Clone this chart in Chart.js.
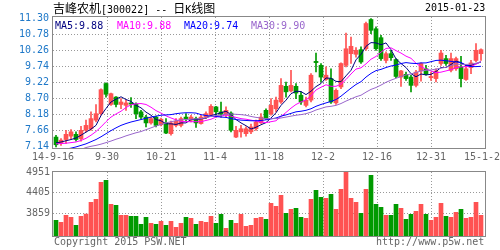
<!DOCTYPE html>
<html>
<head>
<meta charset="utf-8">
<script src="https://cdn.jsdelivr.net/npm/chart.js@4.4.1/dist/chart.umd.min.js"></script>
<style>
  body { margin: 0; background: #fff; }
  #wrap { position: relative; width: 500px; height: 250px; overflow: hidden; }
  #wrap canvas { position: absolute; left: 0; }
  .txt { position: absolute; font-family: "DejaVu Sans Mono", monospace; font-size: 10px; line-height: 12px; white-space: nowrap; }
  .cjk { font-family: "Noto Sans CJK SC", sans-serif; font-size: 12px; }
</style>
</head>
<body>
<div id="wrap">
  <canvas id="kChart" width="500" height="170" style="top:0"></canvas>
  <canvas id="volChart" width="500" height="90" style="top:160px"></canvas>

  <div class="txt" style="left:53px;top:2px;color:#000"><span class="cjk">吉峰农机</span>[300022] -- <span class="cjk">日</span>K<span class="cjk">线图</span></div>
  <div class="txt" style="left:425px;top:2px;color:#000">2015-01-23</div>

  <div class="txt" style="left:55px;top:20px;color:#000080">MA5:9.88</div>
  <div class="txt" style="left:117px;top:20px;color:#ff00ff">MA10:9.88</div>
  <div class="txt" style="left:184px;top:20px;color:#0000ff">MA20:9.74</div>
  <div class="txt" style="left:251px;top:20px;color:#9966cc">MA30:9.90</div>

  <div class="txt" style="left:54px;top:236px;color:#666">Copyright 2015 PSW.NET</div>
  <div class="txt" style="left:376px;top:236px;color:#666">http://www.p5w.net</div>
</div>

<script>
// tick labels
const xTickLabels = ['14-9-16', '9-30', '10-21', '11-4', '11-18', '12-2', '12-16', '12-31', '15-1-23'];
const priceTicks = [11.30, 10.78, 10.26, 9.74, 9.22, 8.70, 8.18, 7.66, 7.14];
const volTicks = [4951, 4405, 3859];

// daily candles, 2014-09-16 .. 2015-01-23
const openP = [7.44,7.23,7.36,7.47,7.53,7.39,7.66,7.71,7.99,8.20, 9.18,8.50,8.74,8.50,8.47,8.55,8.51,8.26,8.09,7.90,
  8.09,7.84,7.90,7.55,7.82,7.82,8.09,7.99,8.04,7.88, 8.09,8.15,8.42,8.26,8.18,8.22,7.44,7.61,7.55,7.61,
  7.71,7.90,8.31,8.20,8.36,8.58,9.09,8.94,9.09,8.80, 8.47,8.64,9.90,9.77,9.31,9.34,8.55,9.07,9.77,10.15,
  10.13,10.28,10.31,11.26,10.96,10.67,9.93,10.15,9.96,9.39, 9.48,9.39,9.12,9.59,9.66,9.37,9.34,9.83,9.99,9.61,
  9.66,9.72,9.31,9.70,9.93,10.15];
const highP = [7.50,7.39,7.66,7.68,7.61,7.79,7.99,8.26,8.50,9.01, 9.20,8.87,8.76,8.69,8.64,8.72,8.55,8.31,8.15,8.09,
  8.12,8.06,8.04,7.96,8.04,8.09,8.20,8.15,8.09,8.15, 8.26,8.50,8.44,8.58,8.42,8.26,7.79,7.82,7.77,7.86,
  7.99,8.20,8.36,8.69,8.74,9.34,9.23,9.61,9.18,8.91, 8.74,9.50,10.17,9.83,9.72,9.66,9.01,9.85,10.82,10.69,
  10.35,10.37,11.18,11.29,11.02,10.75,10.21,10.26,9.99,9.61, 9.55,9.45,9.61,9.85,9.77,9.55,9.66,10.26,10.10,10.17,
  10.04,10.06,9.72,9.93,10.48,10.31];
const lowP = [7.12,7.17,7.23,7.39,7.31,7.31,7.61,7.66,7.93,8.15, 8.74,8.47,8.42,8.36,8.31,8.40,8.04,8.04,7.77,7.86,
  7.77,7.80,7.55,7.50,7.77,7.77,7.96,7.93,7.75,7.86, 8.04,8.12,8.09,8.09,8.09,7.61,7.42,7.44,7.47,7.55,
  7.66,7.88,8.01,8.15,8.26,8.53,8.74,8.91,8.69,8.50, 8.42,8.58,9.56,9.23,9.28,8.53,8.50,9.01,9.72,9.83,
  10.04,9.83,10.26,10.80,10.26,9.93,9.85,9.93,9.37,9.09, 9.28,8.91,9.07,9.26,9.45,9.28,9.23,9.77,9.77,9.56,
  9.61,9.07,9.28,9.50,9.88,9.93];
const closeP = [7.19,7.34,7.53,7.61,7.36,7.66,7.82,8.04,8.20,8.98, 8.83,8.85,8.50,8.58,8.55,8.51,8.20,8.09,7.90,8.04,
  7.82,8.02,7.57,7.90,7.96,8.04,8.04,8.09,7.90,8.09, 8.20,8.44,8.26,8.18,8.31,7.66,7.66,7.71,7.71,7.77,
  7.93,8.09,8.04,8.47,8.64,9.12,8.91,9.12,8.87,8.58, 8.64,9.45,9.86,9.39,9.45,8.58,8.96,9.83,10.31,10.39,
  10.26,9.88,11.13,10.91,10.31,9.99,10.15,10.02,9.41,9.59, 9.34,9.12,9.55,9.83,9.48,9.41,9.59,10.17,9.83,9.99,
  9.99,9.34,9.66,9.85,10.26,10.28];
const volume = [3676,3623,3808,3755,3544,3782,3843,4151,4230,4679, 4732,4098,4072,3808,3808,3782,3782,3570,3755,3597,
  3570,3650,3544,3650,3491,3597,3755,3729,3570,3650, 3623,3782,3597,3834,3465,3676,3597,3834,3518,3544,
  3729,3755,3702,4125,4046,4336,3861,3966,3993,3755, 3729,4230,4468,4283,4257,4362,3966,4494,4951,4257,
  4151,3861,4494,4864,4098,4019,3808,3808,4098,3993, 3702,3834,3914,4098,3834,3676,3755,4125,3782,3755,
  3887,3966,3729,3755,4151,3808];

// moving average lines
const ma5 = [7.25,7.28,7.32,7.36,7.41,7.50,7.60,7.70,7.82,8.14, 8.37,8.58,8.67,8.75,8.66,8.60,8.47,8.39,8.25,8.15,
  8.01,7.97,7.87,7.87,7.85,7.90,7.90,8.01,8.01,8.03, 8.06,8.14,8.18,8.23,8.28,8.17,8.01,7.90,7.81,7.70,
  7.76,7.84,7.91,8.06,8.23,8.47,8.64,8.85,8.93,8.92, 8.82,8.93,9.08,9.18,9.36,9.35,9.25,9.24,9.43,9.61,
  9.95,10.13,10.39,10.51,10.50,10.44,10.50,10.28,9.98,9.83, 9.70,9.50,9.40,9.49,9.46,9.48,9.57,9.70,9.70,9.80,
  9.91,9.86,9.76,9.77,9.82,9.88];
const ma10 = [7.22,7.23,7.24,7.26,7.28,7.33,7.40,7.50,7.62,7.77, 7.94,8.09,8.19,8.28,8.40,8.49,8.52,8.53,8.50,8.41,
  8.30,8.22,8.13,8.06,8.00,7.95,7.94,7.94,7.94,7.94, 7.98,8.02,8.09,8.12,8.16,8.12,8.08,8.04,8.02,7.99,
  7.96,7.93,7.91,7.94,7.97,8.11,8.24,8.38,8.50,8.58, 8.65,8.78,8.97,9.06,9.14,9.09,9.09,9.16,9.31,9.49,
  9.65,9.69,9.82,9.97,10.06,10.20,10.32,10.34,10.25,10.17, 10.07,10.00,9.84,9.73,9.65,9.59,9.53,9.55,9.59,9.63,
  9.70,9.72,9.73,9.73,9.81,9.90];
const ma20 = [6.98,7.01,7.05,7.08,7.12,7.17,7.22,7.29,7.36,7.45, 7.55,7.65,7.74,7.82,7.88,7.93,7.97,8.01,8.05,8.09,
  8.12,8.15,8.16,8.17,8.20,8.22,8.23,8.23,8.22,8.17, 8.14,8.12,8.11,8.09,8.08,8.04,8.01,7.99,7.98,7.97,
  7.97,7.98,8.00,8.03,8.06,8.12,8.16,8.21,8.26,8.28, 8.31,8.36,8.44,8.50,8.55,8.60,8.66,8.77,8.90,9.03,
  9.15,9.24,9.39,9.51,9.60,9.64,9.70,9.75,9.78,9.83, 9.86,9.84,9.83,9.85,9.85,9.89,9.93,9.94,9.92,9.90,
  9.88,9.86,9.78,9.73,9.73,9.74];
const ma30 = [6.85,6.88,6.91,6.94,6.98,7.04,7.10,7.14,7.17,7.21, 7.26,7.31,7.37,7.42,7.48,7.53,7.58,7.62,7.68,7.74,
  7.80,7.85,7.90,7.94,7.97,8.00,8.01,8.02,8.03,8.04, 8.07,8.11,8.14,8.15,8.19,8.19,8.18,8.17,8.15,8.11,
  8.08,8.06,8.04,8.04,8.04,8.06,8.09,8.12,8.15,8.17, 8.20,8.25,8.32,8.37,8.42,8.44,8.47,8.53,8.61,8.68,
  8.75,8.80,8.90,8.99,9.05,9.13,9.22,9.29,9.35,9.41, 9.46,9.49,9.54,9.59,9.61,9.62,9.65,9.68,9.71,9.76,
  9.81,9.80,9.80,9.81,9.84,9.89];

const UP = '#ff5252';
const DOWN = '#009a00';
const GRID = '#999';
const FONT = { family: 'DejaVu Sans Mono', size: 10 };

const X_MIN = -0.6, X_MAX = 85.8;
const xTickValues = xTickLabels.map((_, k) => X_MIN + k * (X_MAX - X_MIN) / (xTickLabels.length - 1));

function barColor(i) {
  return closeP[i] >= openP[i] ? UP : DOWN;
}

function toPoints(arr) {
  return arr.map((v, i) => ({ x: i, y: v }));
}

// hide grid lines that fall on the frame
function innerGrid(ctx) {
  const n = ctx.scale.ticks.length;
  return (ctx.index === 0 || ctx.index === n - 1) ? 'rgba(0,0,0,0)' : GRID;
}

// grey frame round the plot area
const framePlugin = {
  id: 'frame',
  afterDraw(chart) {
    const { ctx, chartArea: a } = chart;
    ctx.save();
    ctx.strokeStyle = '#888';
    ctx.lineWidth = 1;
    ctx.strokeRect(a.left - 0.5, a.top - 0.5, a.right - a.left + 1, a.bottom - a.top + 1);
    ctx.restore();
  }
};

function xScale(showLabels, height) {
  return {
    type: 'linear',
    min: X_MIN,
    max: X_MAX,
    bounds: 'data',
    offset: false,
    afterBuildTicks: (s) => { s.ticks = xTickValues.map(v => ({ value: v })); },
    afterFit: (s) => { s.height = height; s.paddingLeft = 0; s.paddingRight = 0; },
    ticks: {
      display: showLabels,
      autoSkip: false,
      maxRotation: 0,
      minRotation: 0,
      padding: 3,
      color: '#666',
      font: FONT,
      callback: (value, index) => xTickLabels[index]
    },
    grid: { color: innerGrid, drawTicks: false, offset: false, lineWidth: 1 },
    border: { display: false, dash: [1, 2] }
  };
}

function lineSet(data, color) {
  return {
    type: 'line',
    data: toPoints(data),
    borderColor: color,
    borderWidth: 1,
    pointRadius: 0,
    tension: 0,
    clip: 0,
    order: 0
  };
}

// candlestick chart
const kChart = new Chart(document.getElementById('kChart'), {
  type: 'bar',
  data: {
    datasets: [
      lineSet(ma30, '#9966cc'),
      lineSet(ma20, '#0000ff'),
      lineSet(ma10, '#ff00ff'),
      lineSet(ma5, '#000080'),
      {
        // bodies
        data: openP.map((o, i) => ({ x: i, y: [o, closeP[i]] })),
        backgroundColor: (c) => barColor(c.dataIndex),
        barThickness: 4,
        minBarLength: 1,
        grouped: false,
        order: 1
      },
      {
        // wicks
        data: lowP.map((l, i) => ({ x: i, y: [l, highP[i]] })),
        backgroundColor: (c) => barColor(c.dataIndex),
        barThickness: 1,
        grouped: false,
        order: 2
      }
    ]
  },
  options: {
    responsive: false,
    animation: false,
    layout: { padding: { top: 17, right: 15, left: 0, bottom: 0 } },
    plugins: { legend: { display: false }, tooltip: { enabled: false } },
    scales: {
      x: xScale(true, 22),
      y: {
        min: 7.085,
        max: 11.342,
        bounds: 'data',
        afterBuildTicks: (s) => { s.ticks = priceTicks.map(v => ({ value: v })); },
        afterFit: (s) => { s.width = 53; s.paddingTop = 0; s.paddingBottom = 0; },
        ticks: {
          padding: 4,
          color: '#1e78c8',
          font: FONT,
          callback: (value) => Number(value).toFixed(2)
        },
        grid: { color: innerGrid, drawTicks: false },
        border: { display: false, dash: [1, 2] }
      }
    }
  },
  plugins: [framePlugin]
});

// volume chart
const volChart = new Chart(document.getElementById('volChart'), {
  type: 'bar',
  data: {
    datasets: [{
      data: volume.map((v, i) => ({ x: i, y: v })),
      backgroundColor: (c) => barColor(c.dataIndex),
      barThickness: 4,
      grouped: false
    }]
  },
  options: {
    responsive: false,
    animation: false,
    layout: { padding: { top: 12, right: 15, left: 0, bottom: 0 } },
    plugins: { legend: { display: false }, tooltip: { enabled: false } },
    scales: {
      x: xScale(false, 14),
      y: {
        min: 3261,
        max: 4951,
        bounds: 'data',
        afterBuildTicks: (s) => { s.ticks = volTicks.map(v => ({ value: v })); },
        afterFit: (s) => { s.width = 53; s.paddingTop = 0; s.paddingBottom = 0; },
        ticks: {
          padding: 3,
          color: '#666',
          font: FONT,
          callback: (value) => String(value)
        },
        grid: { color: (c) => c.index === 0 ? 'rgba(0,0,0,0)' : GRID, drawTicks: false },
        border: { display: false, dash: [1, 2] }
      }
    }
  },
  plugins: [framePlugin]
});
</script>
</body>
</html>
